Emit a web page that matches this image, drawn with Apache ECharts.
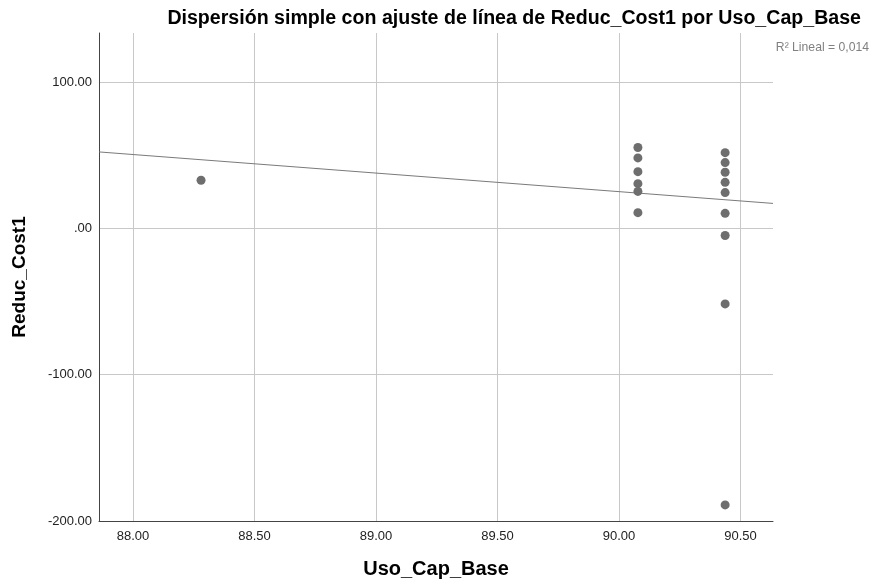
<!DOCTYPE html>
<html><head><meta charset="utf-8">
<script src="https://cdn.jsdelivr.net/npm/echarts@6/dist/echarts.min.js"></script>
<style>html,body{margin:0;padding:0;background:#fff}#c{width:883px;height:586px}</style>
</head><body><div id="c"></div>
<script>
// Scatter points (Uso_Cap_Base, Reduc_Cost1)
const xValues = [88.28,
  90.078, 90.078, 90.078, 90.078, 90.078, 90.078,
  90.437, 90.437, 90.437, 90.437, 90.437, 90.437, 90.437, 90.437, 90.437];
const yValues = [32.9,
  55.3, 48.2, 38.8, 30.6, 25.3, 10.8,
  51.8, 45.0, 38.4, 31.5, 24.5, 10.3, -4.8, -51.6, -189.0];
// Linear fit line endpoints (at axis edges)
const fitX = [87.86, 90.634];
const fitY = [52.3, 17.1];
// Axis ticks
const xTicks = [88.00, 88.50, 89.00, 89.50, 90.00, 90.50];
const yTicks = [-200, -100, 0, 100];
const xRange = [87.86, 90.634];
const yRange = [-200, 133.6];

const FONT = '"Liberation Sans", Arial, sans-serif';
function fmt(v) {
  let s = Number(v).toFixed(2);
  return s.replace(/^(-?)0\./, '$1.');
}

const chart = echarts.init(document.getElementById('c'), null, {renderer: 'canvas'});
chart.setOption({
  animation: false,
  backgroundColor: '#ffffff',
  title: [{
    text: 'Dispersión simple con ajuste de línea de Reduc_Cost1 por Uso_Cap_Base',
    right: 17, top: 4,
    textStyle: {fontFamily: FONT, fontSize: 19.6, fontWeight: 'bold', color: '#000'}
  }, {
    text: 'R² Lineal = 0,014',
    right: 9, top: 37,
    textStyle: {fontFamily: FONT, fontSize: 12.2, fontWeight: 'normal', color: '#808080'}
  }],
  grid: {left: 99, right: 110, top: 33, bottom: 65, containLabel: false},
  xAxis: {
    type: 'value',
    min: xRange[0], max: xRange[1],
    name: 'Uso_Cap_Base',
    nameLocation: 'middle', nameGap: 38,
    nameTextStyle: {fontFamily: FONT, fontSize: 20, fontWeight: 'bold', color: '#000'},
    axisLine: {show: true, onZero: false, lineStyle: {color: '#444', width: 1}},
    axisTick: {show: false, customValues: xTicks},
    axisLabel: {customValues: xTicks, formatter: fmt, margin: 9,
      fontFamily: FONT, fontSize: 13, color: '#222'},
    splitLine: {show: true, lineStyle: {color: '#c8c8c8', width: 1}}
  },
  yAxis: {
    type: 'value',
    min: yRange[0], max: yRange[1],
    name: 'Reduc_Cost1',
    nameLocation: 'middle', nameGap: 70, nameRotate: 90,
    nameTextStyle: {fontFamily: FONT, fontSize: 19, fontWeight: 'bold', color: '#000'},
    axisLine: {show: true, onZero: false, lineStyle: {color: '#444', width: 1}},
    axisTick: {show: false, customValues: yTicks},
    axisLabel: {customValues: yTicks, formatter: fmt, margin: 7,
      fontFamily: FONT, fontSize: 13, color: '#222'},
    splitLine: {show: true, lineStyle: {color: '#c8c8c8', width: 1}}
  },
  series: [{
    type: 'line',
    data: fitX.map((x, i) => [x, fitY[i]]),
    symbol: 'none',
    lineStyle: {color: '#7a7a7a', width: 1},
    silent: true,
    z: 2
  }, {
    type: 'scatter',
    data: xValues.map((x, i) => [x, yValues[i]]),
    symbolSize: 9,
    itemStyle: {color: '#6e6e6e', opacity: 1},
    z: 3
  }]
});
</script>
</body></html>
